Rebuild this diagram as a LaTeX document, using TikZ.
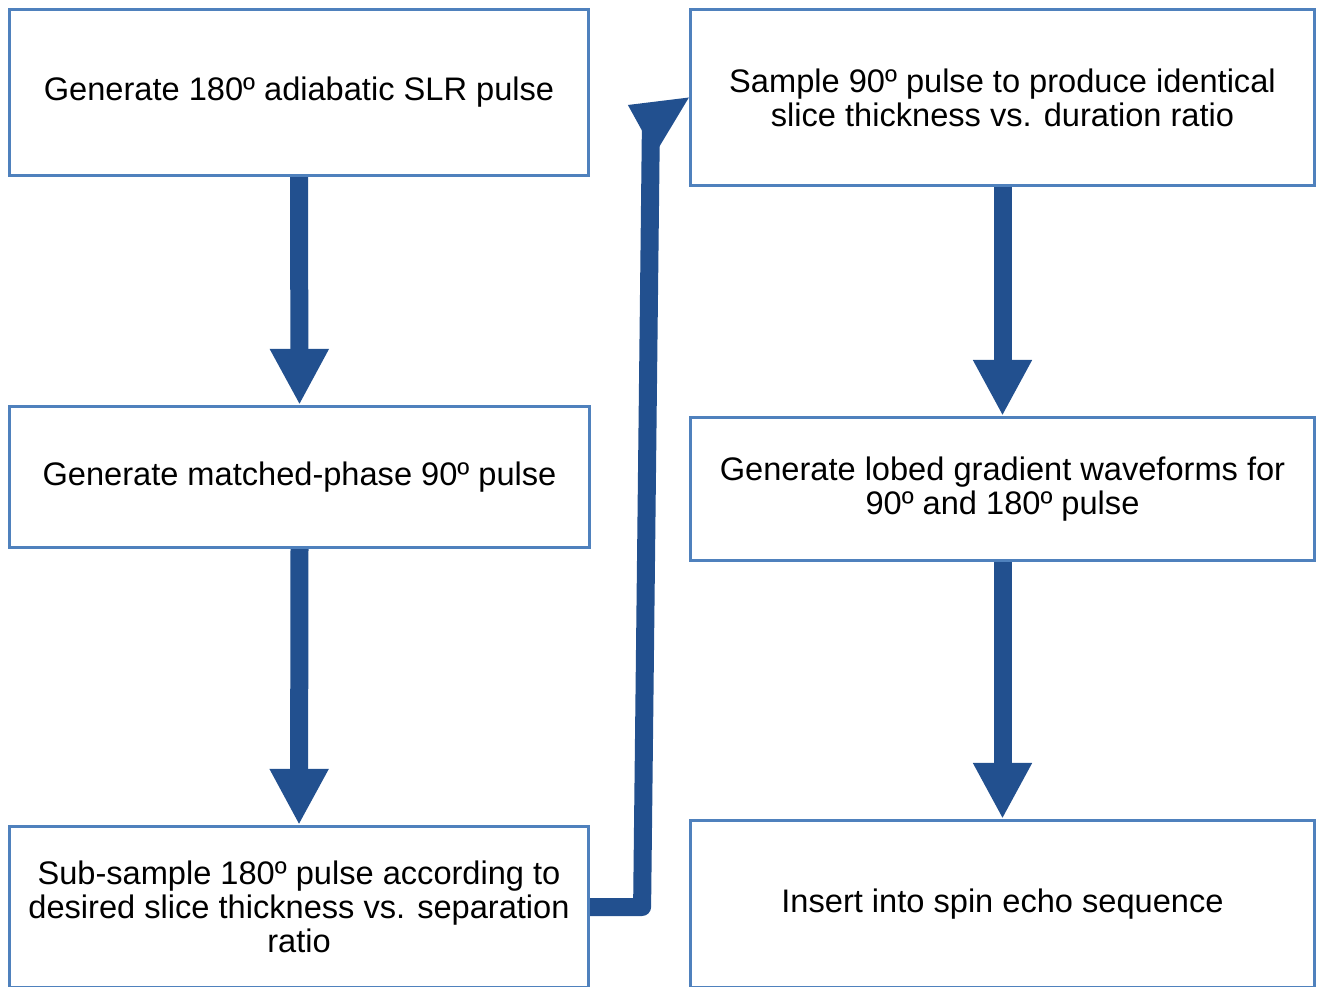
\documentclass[tikz,border=0pt]{standalone}
\usepackage{fontspec}
\setmainfont{Liberation Sans}
\usetikzlibrary{arrows.meta,calc}
\definecolor{boxblue}{HTML}{4F81BD}
\definecolor{arrowblue}{HTML}{22508F}
\begin{document}
\begin{tikzpicture}[x=1pt,y=-1pt,
  box/.style={draw=boxblue, line width=3.2pt, fill=white, align=center, inner sep=0pt,
    font=\fontsize{32.6}{34}\selectfont},
  flow/.style={draw=arrowblue, line width=18pt, -{Triangle[length=56pt 0 0, width=55pt 0 0]}}]
\useasboundingbox (0,0) rectangle (1323,987);
\clip (0,0) rectangle (1323,987);
\node[box, minimum width=579pt, minimum height=166pt] (b1) at (299,92.5) {Generate 180º adiabatic SLR pulse};
\node[box, minimum width=580pt, minimum height=141pt] (b2) at (299.5,477) {Generate matched-phase 90º pulse};
\node[box, minimum width=579pt, minimum height=161pt] (b3) at (299,907) {Sub-sample 180º pulse according to\\desired slice thickness vs. separation\\ratio};
\node[box, minimum width=624pt, minimum height=176pt] (b4) at (1002.5,97.5) {Sample 90º pulse to produce identical\\slice thickness vs. duration ratio};
\node[box, minimum width=624pt, minimum height=143pt] (b5) at (1002.5,489) {Generate lobed gradient waveforms for\\90º and 180º pulse};
\node[box, minimum width=624pt, minimum height=167pt] (b6) at (1002.5,904) {Insert into spin echo sequence};
\draw[flow] (b1.south) -- (b2.north);
\draw[flow] (b2.south) -- (b3.north);
\draw[flow] (b4.south) -- (b5.north);
\draw[flow] (b5.south) -- (b6.north);
\draw[draw=arrowblue, line width=18pt, line join=round] (b3.east) -- ++(52,0) -- ($(b4.west)+(-38,28)$);
\fill[arrowblue] (b4.west) -- ++(-61,7.5) -- ($(b4.west)+(-34,56.5)$) -- cycle;
\end{tikzpicture}
\end{document}
